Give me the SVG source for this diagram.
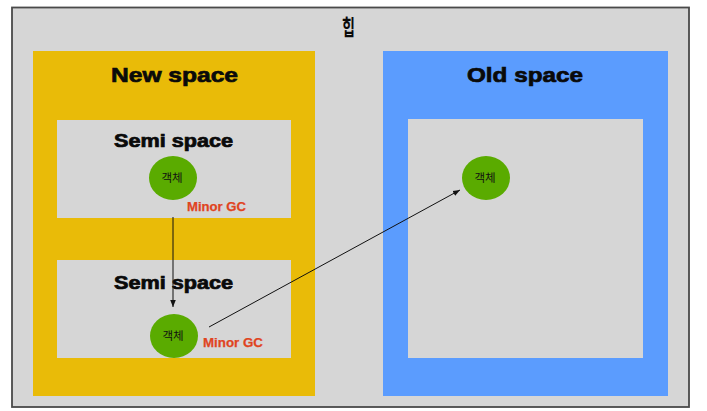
<svg xmlns="http://www.w3.org/2000/svg" width="707" height="411" viewBox="0 0 707 411">
<defs>
<style>
.t{font-family:"Liberation Sans",Arial,sans-serif;font-weight:bold;fill:#0a0a0a;stroke:#0a0a0a;stroke-width:0.7;text-anchor:middle}
.gc{font-family:"Liberation Sans",Arial,sans-serif;font-weight:bold;fill:#e0441f;stroke:#e0441f;stroke-width:0.25;font-size:13px}
.obj{fill:#5aab00}
.ot{font-family:"Noto Sans CJK KR","Noto Sans",sans-serif;font-size:11.5px;fill:#111;text-anchor:middle}
.inner{fill:#d6d6d6}
.edge{stroke:#111;stroke-width:1;fill:none}
</style>
<marker id="ah" viewBox="0 0 10 10" refX="10" refY="5" markerWidth="7" markerHeight="7" orient="auto" markerUnits="userSpaceOnUse">
<path d="M0,1 L10,5 L0,9 Z" fill="#111"/>
</marker>
</defs>
<rect x="0" y="0" width="707" height="411" fill="#ffffff"/>
<g id="heap">
<rect x="12" y="7.5" width="677" height="399.5" fill="#d6d6d6" stroke="#4a4a4a" stroke-width="1.8"/>
<text x="348.5" y="35" font-family="Noto Sans CJK KR, sans-serif" font-size="22" font-weight="bold" text-anchor="middle" fill="#0a0a0a" textLength="13" lengthAdjust="spacingAndGlyphs">힙</text>
</g>
<g id="new-space">
<rect x="33" y="51" width="282" height="345" fill="#e9bb08"/>
<text class="t" x="174.5" y="82" font-size="21" textLength="127" lengthAdjust="spacingAndGlyphs">New space</text>
</g>
<g id="semi-space-1">
<rect class="inner" x="57" y="120" width="234" height="98"/>
<text class="t" x="173.5" y="147" font-size="17.5" textLength="119" lengthAdjust="spacingAndGlyphs">Semi space</text>
</g>
<g id="semi-space-2">
<rect class="inner" x="57" y="260" width="234" height="98"/>
<text class="t" x="173.5" y="289" font-size="17.5" textLength="119" lengthAdjust="spacingAndGlyphs">Semi space</text>
</g>
<g id="old-space">
<rect x="383" y="51" width="285" height="345" fill="#5b9cfe"/>
<text class="t" x="525" y="82" font-size="21" textLength="116" lengthAdjust="spacingAndGlyphs">Old space</text>
<rect class="inner" x="408" y="119" width="235" height="239"/>
</g>
<g id="obj-1">
<ellipse class="obj" cx="173" cy="178" rx="24" ry="22"/>
<text class="ot" x="172" y="182">객체</text>
</g>
<g id="obj-2">
<ellipse class="obj" cx="174" cy="336" rx="24" ry="22"/>
<text class="ot" x="173" y="340">객체</text>
</g>
<g id="obj-3">
<ellipse class="obj" cx="486" cy="178" rx="24" ry="22"/>
<text class="ot" x="485" y="182">객체</text>
</g>
<g id="connectors">
<line class="edge" x1="173" y1="217" x2="173" y2="307" marker-end="url(#ah)"/>
<line class="edge" x1="209" y1="327" x2="460" y2="190" marker-end="url(#ah)"/>
</g>
<g id="labels">
<text class="gc" x="187" y="211" textLength="59" lengthAdjust="spacingAndGlyphs">Minor GC</text>
<text class="gc" x="203" y="347" textLength="60" lengthAdjust="spacingAndGlyphs">Minor GC</text>
</g>
</svg>
